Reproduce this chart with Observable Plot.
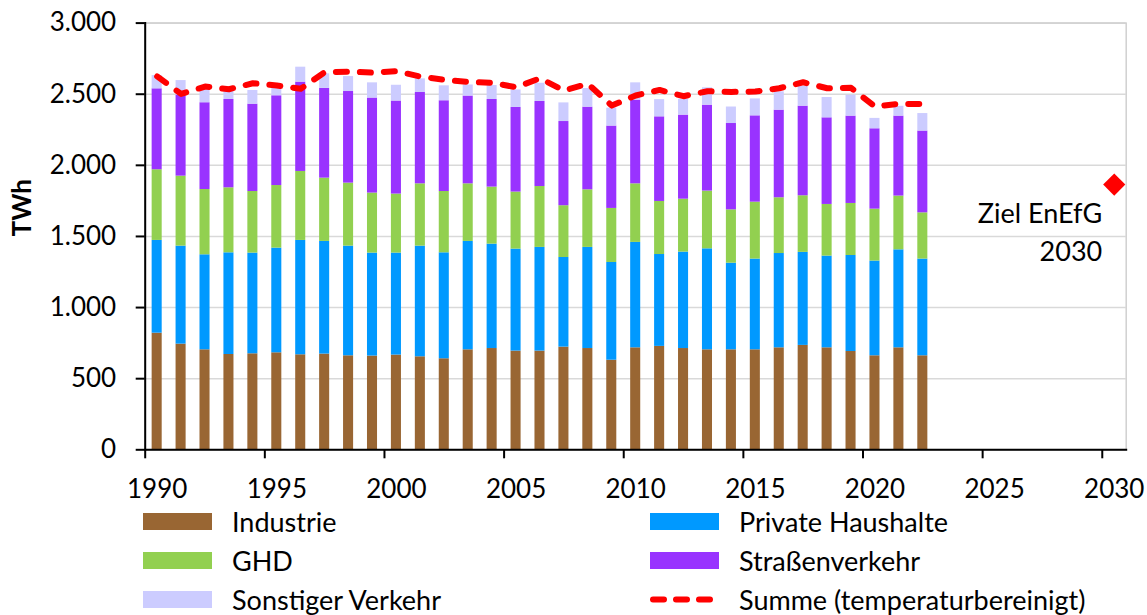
<!DOCTYPE html>
<html><head><meta charset="utf-8">
<script src="https://cdn.jsdelivr.net/npm/d3@7"></script>
<script src="https://cdn.jsdelivr.net/npm/@observablehq/plot@0.6"></script>
<style>
body{margin:0;background:#fff;font-family:Lato, sans-serif;}
#wrap{position:relative;width:1147px;height:615px;overflow:hidden;}
#legend{position:absolute;left:143px;top:502px;display:grid;grid-template-columns:507px 440px;grid-auto-rows:39px;}
.item{display:flex;align-items:center;font-size:27px;line-height:1.1;color:#000;white-space:nowrap;}
.sw{width:69px;height:17px;margin-right:20px;flex:none;}
</style></head><body><div id="wrap"><div id="chart"></div><div id="legend"></div></div>
<script>
const years = [1990,1991,1992,1993,1994,1995,1996,1997,1998,1999,2000,2001,2002,2003,2004,2005,2006,2007,2008,2009,2010,2011,2012,2013,2014,2015,2016,2017,2018,2019,2020,2021,2022];
const industrie = [820,743,703,670,675,682,668,673,661,659,666,654,640,703,712,694,694,722,712,630,717,727,712,703,703,703,717,734,717,691,661,717,661];
const privateHaushalte = [652,689,668,715,708,736,804,792,771,724,717,778,745,762,734,717,729,630,711,687,741,646,678,710,609,638,663,654,645,675,666,689,680];
const ghd = [497,492,459,457,433,440,485,445,443,422,415,438,431,405,401,401,428,364,405,380,412,373,372,406,375,400,392,398,363,366,365,378,325];
const strassenverkehr = [569,570,610,621,614,631,628,631,644,668,654,642,638,617,616,595,598,592,581,579,588,595,591,604,607,607,616,630,609,614,565,562,575];
const sonstigerVerkehr = [93,102,100,87,96,71,105,102,105,107,111,96,105,78,98,123,128,131,131,126,122,121,112,122,116,119,129,140,143,147,73,69,123];
const summe = [2625,2502,2554,2535,2577,2561,2538,2655,2659,2652,2662,2624,2601,2587,2580,2549,2612,2526,2573,2420,2491,2530,2486,2521,2516,2519,2542,2584,2542,2545,2413,2432,2432];
const zielYear = [2030];
const zielValue = [1865];
const zielLabel = ["Ziel EnEfG\n2030"];
const seriesNames = ["Industrie","Private Haushalte","GHD","Straßenverkehr","Sonstiger Verkehr"];
const seriesColors = ["#996633","#0099ff","#92d050","#9933ff","#ccccff"];
const summeName = "Summe (temperaturbereinigt)";
const xLabelYears = [1990,1995,2000,2005,2010,2015,2020,2025,2030];
const yTicks = [0,500,1000,1500,2000,2500,3000];

const seriesValues = [industrie, privateHaushalte, ghd, strassenverkehr, sonstigerVerkehr];
const rows = [];
years.forEach((yr, i) => seriesNames.forEach((s, k) => rows.push({year: yr, series: s, value: seriesValues[k][i]})));
const summeRows = years.map((yr, i) => ({year: yr, value: summe[i]}));
const ziel = zielYear.map((yr, i) => ({year: yr, value: zielValue[i], label: zielLabel[i]}));
const axisYears = d3.range(years[0], zielYear[0] + 1);

const W = 1147, H = 510, mL = 144.7, mR = 21.3, mT = 22.6, mB = 60.7;
const step = (W - mL - mR) / axisYears.length;
const fmt = d3.formatLocale({decimal: ",", thousands: ".", grouping: [3], currency: ["", "€"]}).format(",");

const chart = Plot.plot({
  width: W, height: H, marginTop: mT, marginBottom: mB, marginLeft: mL, marginRight: mR,
  style: {fontFamily: "Lato, sans-serif", fontSize: "26px", color: "#000", background: "#fff"},
  x: {type: "band", domain: axisYears, paddingInner: 0.58, paddingOuter: 0.29, axis: null},
  y: {domain: [0, 3000], axis: null},
  color: {domain: seriesNames, range: seriesColors},
  marks: [
    Plot.gridY(yTicks, {stroke: "#d9d9d9", strokeOpacity: 1, strokeWidth: 1.5}),
    Plot.frame({stroke: "#d0d0d0", strokeWidth: 1.5}),
    Plot.barY(rows, {x: "year", y: "value", fill: "series"}),
    Plot.line(summeRows, {x: "year", y: "value", stroke: "#ff0000", strokeWidth: 6, strokeDasharray: "11,13", strokeLinecap: "round"}),
    Plot.dot(ziel, {x: "year", y: "value", symbol: "diamond2", r: 10, fill: "#ff0000"}),
    Plot.text(ziel, {x: "year", y: "value", text: "label", textAnchor: "end", lineAnchor: "middle", lineHeight: 1.4, dx: -12, dy: 45, fontSize: 27, fill: "#000"}),
    Plot.frame({anchor: "bottom", stroke: "#000", strokeWidth: 2}),
    Plot.frame({anchor: "left", stroke: "#000", strokeWidth: 2}),
    Plot.axisX(xLabelYears, {tickSize: 9, dx: -step / 2, tickFormat: () => "", label: null, strokeWidth: 2, stroke: "#000"}),
    Plot.axisX(xLabelYears, {tickSize: 0, tickPadding: 30, tickFormat: d3.format("d"), label: null, fontSize: 26, fill: "#000"}),
    Plot.axisY(yTicks, {tickSize: 9, tickPadding: 20, tickFormat: fmt, label: null, fontSize: 26, strokeWidth: 2, fill: "#000", stroke: "#000"}),
    Plot.text(["TWh"], {frameAnchor: "left", rotate: -90, dx: -123, fontWeight: "bold", fontSize: 26, fill: "#000"})
  ]
});
document.getElementById("chart").appendChild(chart);

const legend = document.getElementById("legend");
const entries = [
  {name: seriesNames[0], color: seriesColors[0]},
  {name: seriesNames[1], color: seriesColors[1]},
  {name: seriesNames[2], color: seriesColors[2]},
  {name: seriesNames[3], color: seriesColors[3]},
  {name: seriesNames[4], color: seriesColors[4]},
  {name: summeName, dashed: true}
];
for (const e of entries) {
  const item = document.createElement("div");
  item.className = "item";
  if (e.dashed) {
    item.innerHTML = `<svg class="sw" width="69" height="17" style="overflow:visible"><line x1="3" x2="66" y1="8.5" y2="8.5" stroke="#ff0000" stroke-width="6" stroke-linecap="round" stroke-dasharray="11,12"/></svg>`;
  } else {
    item.innerHTML = `<div class="sw" style="background:${e.color}"></div>`;
  }
  const t = document.createElement("span");
  t.textContent = e.name;
  item.appendChild(t);
  legend.appendChild(item);
}
</script>
</body></html>
